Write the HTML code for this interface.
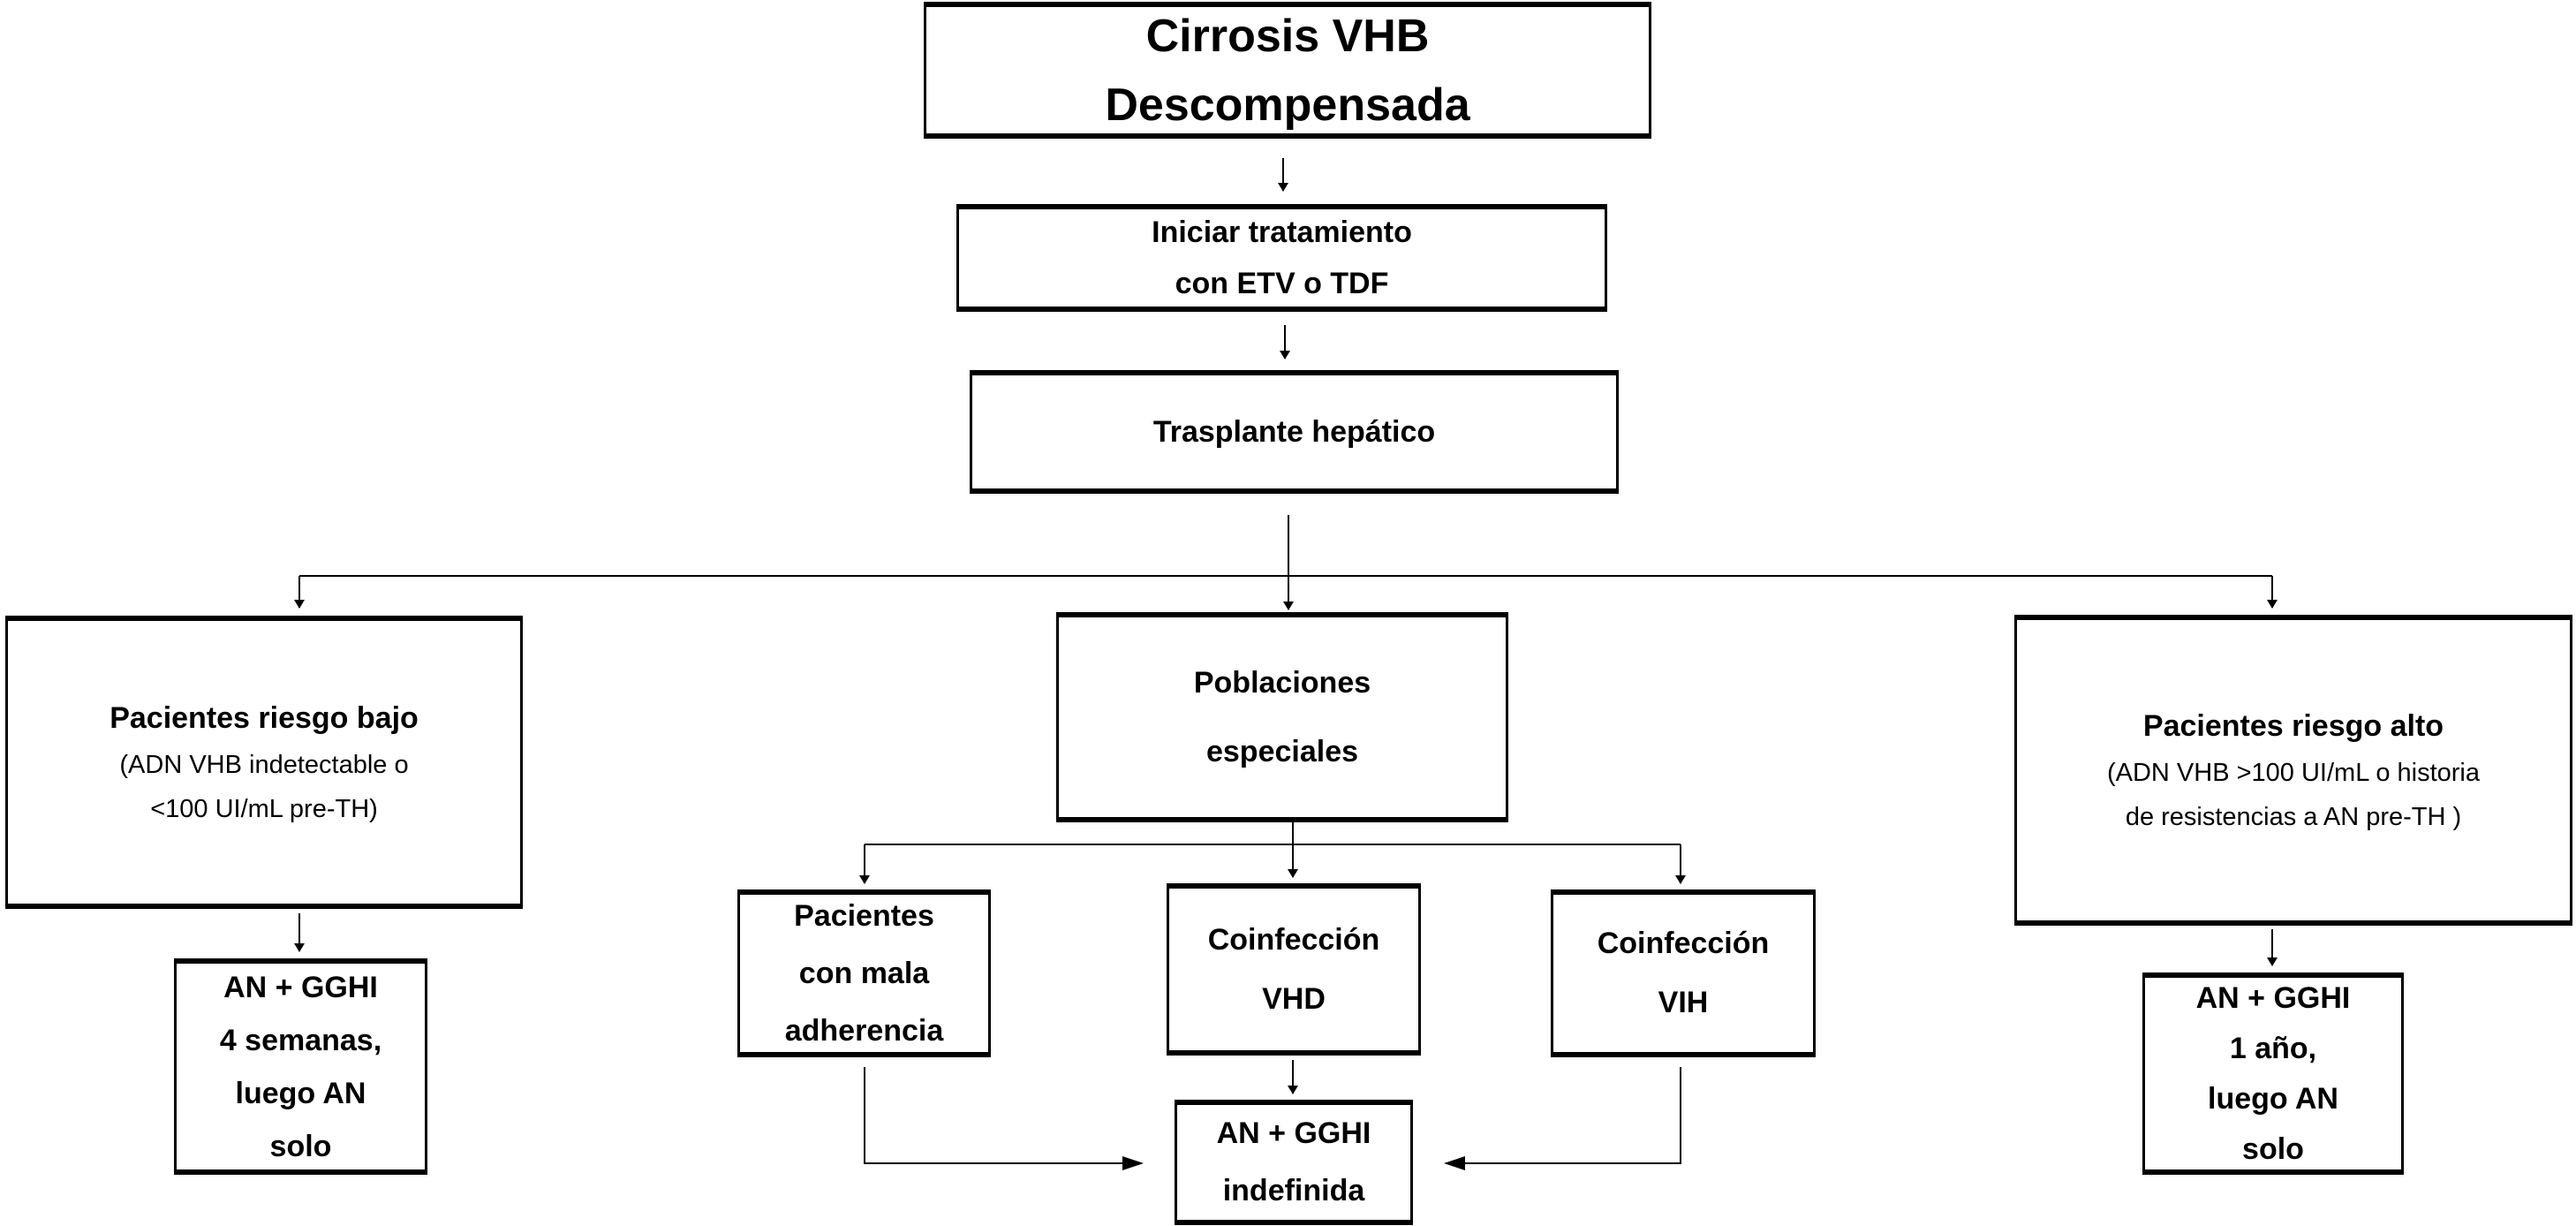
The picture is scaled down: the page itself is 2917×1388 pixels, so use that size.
<!DOCTYPE html>
<html><head><meta charset="utf-8"><style>
html,body{margin:0;padding:0;background:#fff}
body{width:2917px;height:1388px;position:relative;overflow:hidden;font-family:"Liberation Sans",Arial,sans-serif}
.b{position:absolute;box-sizing:border-box;border:3px solid #000;border-top-width:6px;border-bottom-width:6px;display:flex;flex-direction:column;align-items:center;justify-content:center;text-align:center;font-weight:bold;color:#000;background:#fff}
.s{font-weight:normal;font-size:29px;line-height:50px}
svg{position:absolute;left:0;top:0}
</style></head><body>
<svg width="2917" height="1388" viewBox="0 0 2917 1388">
<defs><marker id="a" markerWidth="10" markerHeight="12" refX="9" refY="6" orient="auto" markerUnits="userSpaceOnUse"><path d="M0,0 L10,6 L0,12 z" fill="#000"/></marker>
<marker id="h" markerWidth="24" markerHeight="16" refX="22" refY="8" orient="auto" markerUnits="userSpaceOnUse"><path d="M0,0 L24,8 L0,16 z" fill="#000"/></marker></defs>
<g stroke="#000" stroke-width="2" fill="none">
<line x1="1453" y1="179" x2="1453" y2="216" marker-end="url(#a)"/>
<line x1="1455" y1="368" x2="1455" y2="406" marker-end="url(#a)"/>
<line x1="1459" y1="583" x2="1459" y2="690" marker-end="url(#a)"/>
<line x1="339" y1="652" x2="2573" y2="652"/>
<line x1="339" y1="652" x2="339" y2="688" marker-end="url(#a)"/>
<line x1="2573" y1="652" x2="2573" y2="688" marker-end="url(#a)"/>
<line x1="1464" y1="931" x2="1464" y2="993" marker-end="url(#a)"/>
<line x1="979" y1="956" x2="1903" y2="956"/>
<line x1="979" y1="956" x2="979" y2="1000" marker-end="url(#a)"/>
<line x1="1903" y1="956" x2="1903" y2="1000" marker-end="url(#a)"/>
<line x1="339" y1="1034" x2="339" y2="1077" marker-end="url(#a)"/>
<line x1="2573" y1="1052" x2="2573" y2="1093" marker-end="url(#a)"/>
<line x1="1464" y1="1200" x2="1464" y2="1238" marker-end="url(#a)"/>
<polyline points="979,1208 979,1317 1293,1317" marker-end="url(#h)"/>
<polyline points="1903,1208 1903,1317 1637,1317" marker-end="url(#h)"/>
</g></svg>
<div class="b" style="left:1046px;top:2px;width:824px;height:155px;font-size:52px;line-height:78px"><div>Cirrosis VHB</div><div>Descompensada</div></div>
<div class="b" style="left:1083px;top:231px;width:737px;height:122px;font-size:34px;line-height:58px"><div>Iniciar tratamiento</div><div>con ETV o TDF</div></div>
<div class="b" style="left:1098px;top:419px;width:735px;height:140px;font-size:34px">Trasplante hepático</div>
<div class="b" style="left:6px;top:697px;width:586px;height:332px;font-size:34px;line-height:56px"><div>Pacientes riesgo bajo</div><div class="s">(ADN VHB indetectable o</div><div class="s">&lt;100 UI/mL pre-TH)</div></div>
<div class="b" style="left:1196px;top:693px;width:512px;height:238px;font-size:34px;line-height:78px"><div>Poblaciones</div><div>especiales</div></div>
<div class="b" style="left:2281px;top:696px;width:632px;height:352px;font-size:34px;line-height:56px"><div>Pacientes riesgo alto</div><div class="s">(ADN VHB &gt;100 UI/mL o historia</div><div class="s">de resistencias a AN pre-TH )</div></div>
<div class="b" style="left:835px;top:1007px;width:287px;height:190px;font-size:34px;line-height:65px"><div>Pacientes</div><div>con mala</div><div>adherencia</div></div>
<div class="b" style="left:1321px;top:1000px;width:288px;height:195px;font-size:34px;line-height:67px"><div>Coinfección</div><div>VHD</div></div>
<div class="b" style="left:1756px;top:1007px;width:300px;height:190px;font-size:34px;line-height:67px"><div>Coinfección</div><div>VIH</div></div>
<div class="b" style="left:197px;top:1085px;width:287px;height:245px;font-size:34px;line-height:60px"><div>AN + GGHI</div><div>4 semanas,</div><div>luego AN</div><div>solo</div></div>
<div class="b" style="left:2426px;top:1101px;width:296px;height:229px;font-size:34px;line-height:57px"><div>AN + GGHI</div><div>1 año,</div><div>luego AN</div><div>solo</div></div>
<div class="b" style="left:1330px;top:1245px;width:270px;height:142px;font-size:34px;line-height:65px"><div>AN + GGHI</div><div>indefinida</div></div>
</body></html>
